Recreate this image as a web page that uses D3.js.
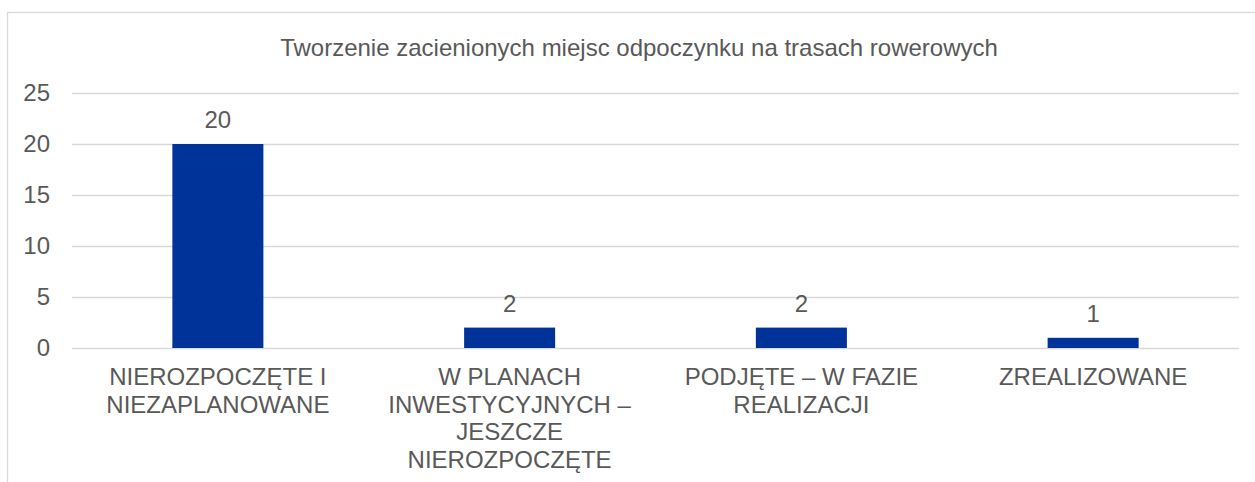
<!DOCTYPE html>
<html>
<head>
<meta charset="utf-8">
<script src="https://cdn.jsdelivr.net/npm/d3@7"></script>
<style>
  html, body { margin: 0; padding: 0; background: #fff; }
  svg { display: block; font-family: "Liberation Sans", Arial, sans-serif; }
</style>
</head>
<body>
<svg id="chart" width="1255" height="482"></svg>
<script>
// Chart data
const title = "Tworzenie zacienionych miejsc odpoczynku na trasach rowerowych";
const categories = [
  "NIEROZPOCZĘTE I\nNIEZAPLANOWANE",
  "W PLANACH\nINWESTYCYJNYCH –\nJESZCZE\nNIEROZPOCZĘTE",
  "PODJĘTE – W FAZIE\nREALIZACJI",
  "ZREALIZOWANE"
];
const values = [20, 2, 2, 1];
const yTicks = [0, 5, 10, 15, 20, 25];

const svg = d3.select("#chart");
const textColor = "#595959";
const gridColor = "#d9d9d9";
const barColor = "#003399";
const fontSize = "24px";

const plot = { left: 72, right: 1239, top: 93, bottom: 348 };

// Chart frame
svg.append("rect")
  .attr("x", 7.5).attr("y", 12.5)
  .attr("width", 1260).attr("height", 500)
  .attr("fill", "#fff")
  .attr("stroke", gridColor).attr("stroke-width", 1.3);

// Title
svg.append("text")
  .attr("x", 639)
  .attr("y", 56)
  .attr("text-anchor", "middle")
  .attr("fill", textColor)
  .style("font-size", "24px")
  .text(title);

const x = d3.scaleBand().domain(categories).range([plot.left, plot.right]).padding(0);
const y = d3.scaleLinear().domain([0, 25]).range([plot.bottom, plot.top]);

// Gridlines and value axis labels
const yAxis = d3.axisLeft(y).tickValues(yTicks).tickSize(-(plot.right - plot.left)).tickPadding(22);
const gy = svg.append("g").attr("transform", `translate(${plot.left},0)`).call(yAxis);
gy.select(".domain").remove();
gy.selectAll(".tick line").attr("stroke", gridColor).attr("stroke-width", 1.5);
gy.selectAll(".tick text")
  .attr("fill", textColor)
  .style("font-size", fontSize)
  .style("font-family", "'Liberation Sans', Arial, sans-serif");

// Bars
const barW = x.bandwidth() * 0.312;
svg.append("g").selectAll("rect")
  .data(values)
  .join("rect")
  .attr("x", (d, i) => x(categories[i]) + (x.bandwidth() - barW) / 2)
  .attr("y", d => y(d))
  .attr("width", barW)
  .attr("height", d => y(0) - y(d))
  .attr("fill", barColor);

// Value labels
svg.append("g").selectAll("text")
  .data(values)
  .join("text")
  .attr("x", (d, i) => x(categories[i]) + x.bandwidth() / 2)
  .attr("y", d => y(d) - 16)
  .attr("text-anchor", "middle")
  .attr("fill", textColor)
  .style("font-size", fontSize)
  .text(d => d);

// Category labels
const cat = svg.append("g").selectAll("text")
  .data(categories)
  .join("text")
  .attr("x", d => x(d) + x.bandwidth() / 2)
  .attr("y", 385)
  .attr("text-anchor", "middle")
  .attr("fill", textColor)
  .style("font-size", fontSize);
cat.each(function (d) {
  const t = d3.select(this);
  d.split("\n").forEach((line, i) => {
    t.append("tspan")
      .attr("x", x(d) + x.bandwidth() / 2)
      .attr("dy", i === 0 ? 0 : 27.5)
      .text(line);
  });
});
</script>
</body>
</html>
